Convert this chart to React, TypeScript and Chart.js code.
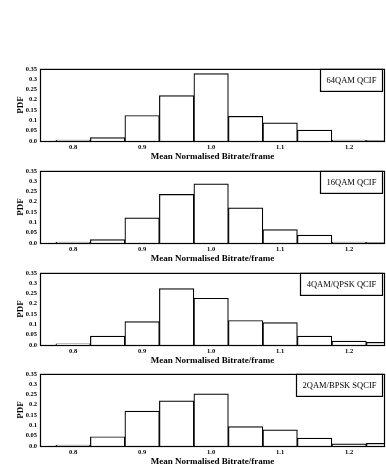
import React, { useEffect, useRef } from "react";
import { Chart, registerables } from "chart.js";

Chart.register(...registerables);

// Bin centres (bin width 0.05)
const binCentres = [0.8, 0.85, 0.9, 0.95, 1.0, 1.05, 1.1, 1.15, 1.2, 1.25];
const xTickValues = [0.8, 0.9, 1.0, 1.1, 1.2];
const xAxisTitle = "Mean Normalised Bitrate/frame";
const yAxisTitle = "PDF";

const labels64 = "64QAM QCIF";
const values64 = [0.005, 0.016, 0.124, 0.22, 0.327, 0.12, 0.088, 0.053, 0.005, 0.002];

const labels16 = "16QAM QCIF";
const values16 = [0.005, 0.016, 0.122, 0.236, 0.287, 0.171, 0.065, 0.038, 0.005, 0.002];

const labels4 = "4QAM/QPSK QCIF";
const values4 = [0.006, 0.043, 0.114, 0.274, 0.227, 0.119, 0.109, 0.043, 0.019, 0.013];

const labels2 = "2QAM/BPSK SQCIF";
const values2 = [0.005, 0.045, 0.169, 0.219, 0.253, 0.094, 0.078, 0.038, 0.01, 0.013];

const panels = [
  { label: labels64, values: values64, top: 68 },
  { label: labels16, values: values16, top: 170 },
  { label: labels4, values: values4, top: 272 },
  { label: labels2, values: values2, top: 373 },
];

const SERIF = '"Liberation Serif", "DejaVu Serif", serif';

function Panel({ label, values, top }: { label: string; values: number[]; top: number }) {
  const ref = useRef<HTMLCanvasElement | null>(null);
  useEffect(() => {
    if (!ref.current) return;
    const framePlugin = {
      id: "frameAndBox",
      afterDraw(chart: any) {
        const { ctx, chartArea } = chart;
        const { left, right, top: t, bottom } = chartArea;
        ctx.save();
        ctx.strokeStyle = "#000";
        ctx.lineWidth = 1.2;
        ctx.strokeRect(left + 0.5, t + 0.5, right - left - 1, bottom - t);
        // label box
        ctx.font = `8.5px ${SERIF}`;
        const tw = ctx.measureText(label).width;
        const w = Math.round(tw + 12);
        const h = 22;
        const x = right - 3 - w;
        ctx.fillStyle = "#fff";
        ctx.fillRect(x, t + 0.5, w, h);
        ctx.strokeRect(x + 0.5, t + 0.5, w, h);
        ctx.fillStyle = "#000";
        ctx.textAlign = "center";
        ctx.textBaseline = "middle";
        ctx.fillText(label, x + w / 2 + 0.5, t + h / 2 + 1);
        ctx.restore();
      },
    };
    const chart = new Chart(ref.current, {
      type: "bar",
      data: {
        datasets: [
          {
            data: binCentres.map((c, i) => ({ x: c, y: values[i] })),
            backgroundColor: "#fff",
            borderColor: "#000",
            borderWidth: 1.2,
            barPercentage: 1,
            categoryPercentage: 1,
          },
        ],
      },
      options: {
        responsive: false,
        animation: false,
        devicePixelRatio: 1,
        layout: { padding: { top: 6, right: 1, left: 0, bottom: 0 } },
        plugins: { legend: { display: false }, tooltip: { enabled: false } },
        scales: {
          x: {
            type: "linear",
            min: 0.752,
            max: 1.252,
            offset: false,
            grid: { display: false, drawTicks: false, offset: false },
            border: { display: false },
            afterBuildTicks: (scale: any) => {
              scale.ticks = xTickValues.map((v) => ({ value: v }));
            },
            afterFit: (scale: any) => {
              scale.height = 21;
            },
            ticks: {
              padding: 2,
              autoSkip: false,
              maxRotation: 0,
              color: "#000",
              font: { family: SERIF, size: 6.5, weight: "bold" },
              callback: (v: any) => Number(v).toFixed(1),
            },
            title: {
              display: true,
              text: xAxisTitle,
              color: "#000",
              font: { family: SERIF, size: 9, weight: "bold" },
              padding: { top: 0, bottom: 0 },
            },
          },
          y: {
            min: 0,
            max: 0.35,
            grid: { display: false, drawTicks: false },
            border: { display: false },
            afterFit: (scale: any) => {
              scale.width = 40;
            },
            ticks: {
              stepSize: 0.05,
              autoSkip: false,
              padding: 3,
              color: "#000",
              font: { family: SERIF, size: 6.5, weight: "bold" },
              callback: (v: any) => (Number(v) === 0 ? "0.0" : String(+Number(v).toFixed(2))),
            },
            title: {
              display: true,
              text: yAxisTitle,
              color: "#000",
              font: { family: SERIF, size: 9, weight: "bold" },
              padding: { top: 15, bottom: 0 },
            },
          },
        },
      },
      plugins: [framePlugin],
    } as any);
    return () => chart.destroy();
  }, [label, values]);
  return (
    <div style={{ position: "absolute", left: 0, top: top - 6, width: 386, height: 100 }}>
      <canvas ref={ref} width={386} height={100} style={{ width: 386, height: 100, display: "block" }} />
    </div>
  );
}

export default function App() {
  return (
    <div style={{ position: "fixed", left: 0, top: 0, width: 386, height: 474, background: "#fff" }}>
      {panels.map((p) => (
        <Panel key={p.label} label={p.label} values={p.values} top={p.top} />
      ))}
    </div>
  );
}
